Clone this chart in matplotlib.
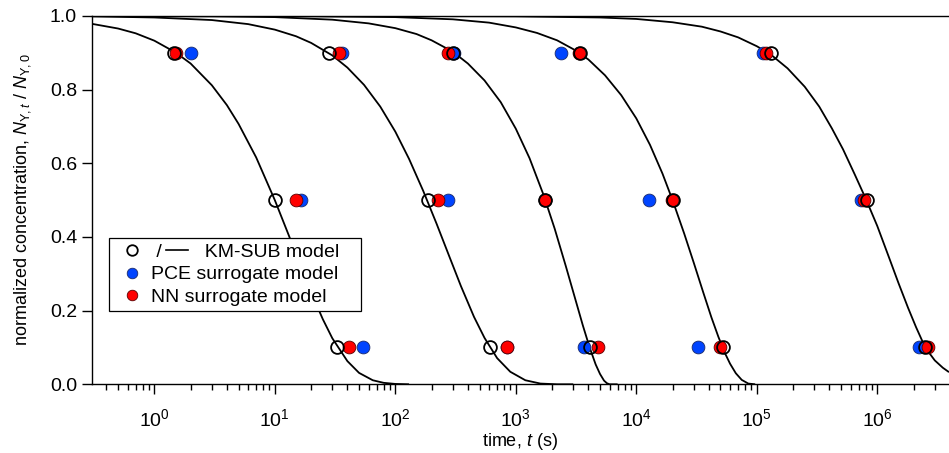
import matplotlib
matplotlib.use("Agg")
import matplotlib.pyplot as plt
from matplotlib.lines import Line2D
from matplotlib.legend_handler import HandlerBase
from matplotlib.ticker import LogLocator, NullFormatter, FixedLocator

plt.rcParams['font.family'] = ['Liberation Sans', 'DejaVu Sans']
plt.rcParams['mathtext.fontset'] = 'custom'
plt.rcParams['mathtext.rm'] = 'Liberation Sans'
plt.rcParams['mathtext.it'] = 'Liberation Sans:italic'
plt.rcParams['mathtext.bf'] = 'Liberation Sans:bold'

# ---------------- data ----------------
levels = [0.9, 0.5, 0.1]

# KM-SUB model points (time at each level, one list per level, 5 runs)
km_t_09 = [1.45, 28.3, 300, 3410, 1.31e5]
km_t_05 = [10.0, 185, 1760, 20200, 8.2e5]
km_t_01 = [33, 610, 4130, 52700, 2.5e6]

pce_t_09 = [2.0, 36, 309, 2360, 1.12e5]
pce_t_05 = [16.4, 275, 1740, 12800, 7.4e5]
pce_t_01 = [54, 845, 3680, 32700, 2.22e6]

nn_t_09 = [1.5, 34.3, 275, 3350, 1.2e5]
nn_t_05 = [14.9, 225, 1750, 19900, 7.76e5]
nn_t_01 = [41, 850, 4840, 49500, 2.64e6]

# KM-SUB model curves
curve1_t = [0.3, 0.5, 0.7, 1, 1.5, 2, 3, 4, 5, 7, 10, 13, 16, 20, 25, 30, 40, 50, 65, 80, 100, 130]
curve1_v = [0.979, 0.966, 0.953, 0.933, 0.901, 0.871, 0.812, 0.758, 0.707, 0.616, 0.500, 0.406,
            0.330, 0.250, 0.177, 0.125, 0.063, 0.031, 0.011, 0.004, 0.001, 0.0]

curve2_t = [0.3, 1, 3, 6, 10, 15, 20, 30, 40, 55, 75, 100, 130, 170, 220, 280, 350, 450, 550,
            700, 900, 1200, 1600, 2200, 3000]
curve2_v = [0.999, 0.996, 0.989, 0.978, 0.963, 0.945, 0.927, 0.893, 0.860, 0.813, 0.754, 0.686,
            0.612, 0.526, 0.436, 0.348, 0.267, 0.183, 0.126, 0.071, 0.034, 0.011, 0.002, 0.0, 0.0]

curve3_t = [0.3, 3, 10, 30, 60, 100, 150, 200, 300, 400, 550, 750, 1000, 1300, 1700, 2100, 2600,
            3100, 3600, 4100, 4600, 5000, 5400, 5700, 6000, 7000]
curve3_v = [1.0, 0.999, 0.997, 0.990, 0.980, 0.967, 0.951, 0.934, 0.903, 0.871, 0.825, 0.766,
            0.694, 0.614, 0.514, 0.423, 0.321, 0.234, 0.160, 0.100, 0.054, 0.028, 0.010, 0.003,
            0.0, 0.0]

curve4_t = [0.3, 10, 100, 300, 600, 1000, 1500, 2200, 3000, 4000, 5500, 7500, 10000, 13000,
            16500, 20000, 25000, 30000, 36000, 42000, 48000, 54000, 60000, 67000, 75000, 85000,
            97000]
curve4_v = [1.0, 1.0, 0.997, 0.991, 0.982, 0.969, 0.954, 0.934, 0.910, 0.882, 0.839, 0.785,
            0.722, 0.650, 0.572, 0.500, 0.409, 0.330, 0.249, 0.182, 0.129, 0.087, 0.056, 0.030,
            0.012, 0.002, 0.0]

curve5_t = [0.3, 100, 1000, 5000, 10000, 20000, 35000, 50000, 70000, 100000, 130000, 180000,
            250000, 330000, 420000, 520000, 650000, 800000, 1000000, 1250000, 1500000, 1800000,
            2100000, 2500000, 3000000, 3500000, 3940000]
curve5_v = [1.0, 1.0, 0.999, 0.996, 0.992, 0.983, 0.971, 0.958, 0.942, 0.918, 0.896, 0.858,
            0.808, 0.754, 0.695, 0.638, 0.570, 0.505, 0.430, 0.345, 0.275, 0.208, 0.155, 0.100,
            0.065, 0.045, 0.033]

curves = [(curve1_t, curve1_v), (curve2_t, curve2_v), (curve3_t, curve3_v),
          (curve4_t, curve4_v), (curve5_t, curve5_v)]

x_ticks = [1e0, 1e1, 1e2, 1e3, 1e4, 1e5, 1e6]
y_ticks = [0.0, 0.2, 0.4, 0.6, 0.8, 1.0]

legend_labels = ["KM-SUB model", "PCE surrogate model", "NN surrogate model"]

# ---------------- styling ----------------
BLUE = '#0044ff'
RED = '#ff0000'
FS = 14
MS = 9.2

W, H = 949, 453
fig = plt.figure(figsize=(W / 100, H / 100), dpi=100)
ax = fig.add_axes([91.7 / W, (H - 384.3) / H, 857.3 / W, 368.3 / H])

for t, v in curves:
    ax.plot(t, v, color='black', lw=1.3, zorder=2, solid_capstyle='butt')

def scatter(ts_list, **kw):
    xs, ys = [], []
    for lev, ts in zip(levels, ts_list):
        xs += list(ts)
        ys += [lev] * len(ts)
    ax.plot(xs, ys, linestyle='none', marker='o', markersize=MS, clip_on=False, **kw)

scatter([pce_t_09, pce_t_05, pce_t_01], markerfacecolor=BLUE, markeredgecolor='#1a2a6a',
        markeredgewidth=0.6, zorder=3)
scatter([nn_t_09, nn_t_05, nn_t_01], markerfacecolor=RED, markeredgecolor='#5a0000',
        markeredgewidth=0.6, zorder=4)
scatter([km_t_09, km_t_05, km_t_01], markerfacecolor='none', markeredgecolor='black',
        markeredgewidth=1.3, zorder=5)

ax.set_xscale('log')
ax.set_xlim(0.302, 3.94e6)
ax.set_ylim(0, 1)
ax.xaxis.set_major_locator(FixedLocator(x_ticks))
ax.xaxis.set_minor_locator(LogLocator(base=10, subs=[2, 3, 4, 5, 6, 7, 8, 9], numticks=30))
ax.xaxis.set_minor_formatter(NullFormatter())
ax.set_yticks(y_ticks)
ax.set_yticklabels([f"{v:.1f}" for v in y_ticks])

ax.spines['right'].set_visible(False)
for s in ['left', 'bottom', 'top']:
    ax.spines[s].set_linewidth(1.0)
ax.tick_params(axis='both', which='major', direction='out', length=7.5, width=1.0,
               labelsize=FS, colors='black')
ax.tick_params(axis='x', which='major', pad=10)
ax.tick_params(axis='y', which='major', pad=3)
ax.tick_params(axis='x', which='minor', direction='out', length=4, width=1.0)
ax.tick_params(top=False, right=False, which='both')

ax.set_xlabel("time, $t$ (s)", fontsize=13)
ax.xaxis.set_label_coords(0.5, -0.1835)
ax.xaxis.label.set_va('bottom')
ax.set_ylabel(r"normalized concentration, $N_{\mathrm{Y},t}$ / $N_{\mathrm{Y},0}$", fontsize=13)
ax.yaxis.set_label_coords(-0.068, 0.5)


class MarkerAt(HandlerBase):
    """Legend handle: a marker at a fixed x (points), optionally followed by a line."""
    def __init__(self, xpt, line=None):
        super().__init__()
        self.xpt = xpt
        self.line = line

    def create_artists(self, legend, orig_handle, xdescent, ydescent, width, height,
                       fontsize, trans):
        y = height / 2 - ydescent
        x = self.xpt - xdescent
        m = Line2D([x], [y], linestyle='none', marker='o',
                   markersize=orig_handle.get_markersize(),
                   markerfacecolor=orig_handle.get_markerfacecolor(),
                   markeredgecolor=orig_handle.get_markeredgecolor(),
                   markeredgewidth=orig_handle.get_markeredgewidth())
        m.set_transform(trans)
        arts = [m]
        if self.line:
            lx0, lx1 = self.line
            ln = Line2D([lx0 - xdescent, lx1 - xdescent], [y, y], color='black', lw=1.2)
            ln.set_transform(trans)
            arts.append(ln)
        return arts


h_km = Line2D([], [], linestyle='none', marker='o', markersize=7.6, markerfacecolor='none',
              markeredgecolor='black', markeredgewidth=1.3)
h_pce = Line2D([], [], linestyle='none', marker='o', markersize=7.6, markerfacecolor=BLUE,
               markeredgecolor='#1a2a6a', markeredgewidth=0.6)
h_nn = Line2D([], [], linestyle='none', marker='o', markersize=7.6, markerfacecolor=RED,
              markeredgecolor='#5a0000', markeredgewidth=0.6)

leg = ax.legend([h_km, h_pce, h_nn],
                [" /" + " " * 8 + legend_labels[0], legend_labels[1], legend_labels[2]],
                handler_map={h_km: MarkerAt(12.8, line=(36.9, 53.1)),
                             h_pce: MarkerAt(12.8), h_nn: MarkerAt(12.8)},
                loc='lower left', bbox_to_anchor=(0.0205, 0.199, 0.2933, 0.2),
                mode='expand', borderaxespad=0, fontsize=FS, borderpad=0.267,
                handlelength=1.464, handletextpad=0.4, labelspacing=0.246,
                fancybox=False, framealpha=1, edgecolor='black')
leg.get_frame().set_linewidth(0.9)

fig.savefig("out.png", dpi=100)
